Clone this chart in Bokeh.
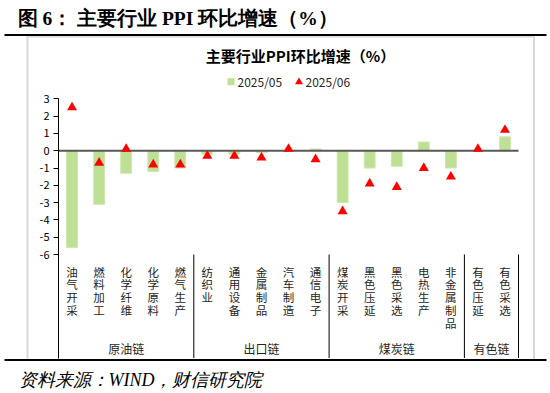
from bokeh.plotting import figure
from bokeh.models import Range1d, FixedTicker, Label
from bokeh.models import ColumnDataSource
from bokeh.core.properties import value
from bokeh.embed import file_html
from bokeh.resources import INLINE

# ---------------- data ----------------
categories = ["油气开采", "燃料加工", "化学纤维", "化学原料", "燃气生产",
              "纺织业", "通用设备", "金属制品", "汽车制造", "通信电子",
              "煤炭开采", "黑色压延", "黑色采选", "电热生产", "非金属制品",
              "有色压延", "有色采选"]
may_2025 = [-5.6, -3.1, -1.3, -1.2, -1.0,
            -0.2, -0.2, -0.1, 0.0, 0.1,
            -3.0, -1.0, -0.9, 0.5, -1.0,
            0.0, 0.8]
jun_2025 = [2.5, -0.7, 0.1, -0.8, -0.8,
            -0.3, -0.3, -0.4, 0.1, -0.5,
            -3.5, -1.9, -2.1, -1.0, -1.5,
            0.1, 1.2]
groups = ["原油链", "出口链", "煤炭链", "有色链"]
group_sizes = [5, 5, 5, 2]
y_ticks = [-6, -5, -4, -3, -2, -1, 0, 1, 2, 3]
series_names = ["2025/05", "2025/06"]
outer_title = "图 6： 主要行业 PPI 环比增速（%）"
chart_title = "主要行业PPI环比增速（%）"
source_note = "资料来源：WIND，财信研究院"

# ---------------- layout helpers (picture pixels -> data) ----------------
PX_X0, PX_PER_CAT = 58.0, 27.06
PX_Y0, PX_PER_UNIT = 150.2, 17.3
def X(px):
    return (px - PX_X0) / PX_PER_CAT
def Y(py):
    return (PX_Y0 - py) / PX_PER_UNIT

W, H = 550, 393
p = figure(width=W, height=H, output_backend="svg", toolbar_location=None,
           x_range=Range1d(X(0), X(W)), y_range=Range1d(Y(H), Y(0)),
           x_axis_location=None, min_border_left=0, min_border_right=0,
           min_border_top=0, min_border_bottom=0)
p.grid.visible = False
p.outline_line_color = None
p.background_fill_color = "white"
p.border_fill_color = "white"

GREEN = "#BDE094"
RED = "#FF0000"
CJK = "Noto Sans CJK SC"

# frame decorations (rules and chart box)
rules = dict(l=[X(4), X(4)], r=[X(546), X(546)],
             t=[Y(33.5), Y(358.5)], b=[Y(35.5), Y(360.5)])
p.quad(left=rules["l"], right=rules["r"], top=rules["t"], bottom=rules["b"],
       fill_color="black", line_color=None)
box = dict(l=[X(26), X(26), X(532.5)], r=[X(534.5), X(28), X(534.5)],
           t=[Y(35.5), Y(35.5), Y(35.5)], b=[Y(37), Y(358.5), Y(358.5)])
p.quad(left=box["l"], right=box["r"], top=box["t"], bottom=box["b"],
       fill_color="#D9D9D9", line_color=None)

# y axis at category origin
ax = p.yaxis[0]
ax.fixed_location = 0
ax.ticker = FixedTicker(ticks=y_ticks)
ax.major_label_overrides = {t: str(t) for t in y_ticks}
ax.bounds = (Y(357.5), 3)
ax.axis_line_color = "black"
ax.axis_line_width = 1
ax.major_tick_line_color = "black"
ax.major_tick_out = 5
ax.major_tick_in = 0
ax.minor_tick_line_color = None
ax.major_label_text_font = CJK
ax.major_label_text_font_size = "11px"
ax.major_label_text_color = "black"
ax.major_label_standoff = 4

n = len(categories)
xs = [i + 0.5 for i in range(n)]
src = ColumnDataSource(dict(x=xs, may=may_2025, jun=jun_2025, cat=categories,
                            vlab=["\n".join(c) for c in categories]))

# bars
p.vbar(x="x", top="may", bottom=0, width=0.4, source=src,
       fill_color=GREEN, line_color="#CDE8AE", line_width=1)
# zero line
p.segment(x0=[0], y0=[0], x1=[n], y1=[0], line_color="#595959", line_width=2)
# triangles
p.scatter(x="x", y="jun", source=src, marker="triangle", size=10,
          fill_color=RED, line_color=None)

# category labels (vertical)
p.text(x="x", y=Y(263), text="vlab", source=src, text_align="center",
       text_baseline="top", text_font=value(CJK), text_font_size="11.5px",
       text_line_height=0.8, text_color="#262626")

# group separators and labels
bounds_idx = []
acc = 0
for s in group_sizes:
    acc += s
    bounds_idx.append(acc)
p.segment(x0=bounds_idx, y0=[-6] * len(bounds_idx), x1=bounds_idx,
          y1=[Y(357.5)] * len(bounds_idx), line_color="black", line_width=1)
starts = [0] + bounds_idx[:-1]
centers = [(a + b) / 2 for a, b in zip(starts, bounds_idx)]
p.text(x=centers, y=[Y(348)] * len(groups), text=groups, text_align="center",
       text_baseline="middle", text_font=value(CJK), text_font_size="12px",
       text_color="#262626")

# chart title
p.add_layout(Label(x=X(300), y=Y(55), text=chart_title, text_align="center",
                   text_baseline="middle", text_font=CJK, text_font_size="15px",
                   text_font_style="bold", text_color="black"))

# legend (manual)
p.scatter(x=[X(230.5)], y=[Y(81.3)], marker="square", size=7,
          fill_color=GREEN, line_color=None)
p.text(x=[X(237)], y=[Y(81.3)], text=[series_names[0]], text_align="left",
       text_baseline="middle", text_font=value(CJK), text_font_size="12px",
       text_color="#262626")
p.scatter(x=[X(298.5)], y=[Y(81.5)], marker="triangle", size=8,
          fill_color=RED, line_color=None)
p.text(x=[X(305)], y=[Y(81.3)], text=[series_names[1]], text_align="left",
       text_baseline="middle", text_font=value(CJK), text_font_size="12px",
       text_color="#262626")

p.add_layout(Label(x=X(17), y=Y(17.5), text=outer_title, text_align="left",
                   text_baseline="middle", text_font="Liberation Serif",
                   text_font_size="19.5px", text_font_style="bold", text_color="black"))
p.add_layout(Label(x=X(18), y=Y(379), text=source_note, text_align="left",
                   text_baseline="middle", text_font="Liberation Serif",
                   text_font_size="18px", text_font_style="italic", text_color="black"))

open("out.html", "w").write(file_html(p, INLINE))
